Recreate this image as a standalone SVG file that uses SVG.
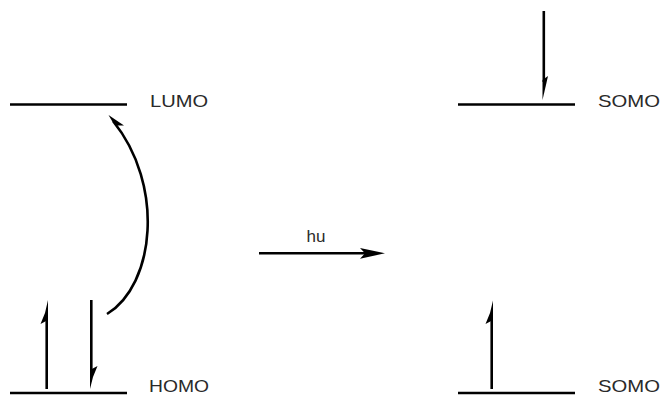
<svg xmlns="http://www.w3.org/2000/svg" width="663" height="396" viewBox="0 0 663 396">
  <style>
    .level { stroke: #000; stroke-width: 2.6; fill: none; }
    .spin { stroke: #000; stroke-width: 2.6; fill: none; }
    .barb { fill: #000; stroke: none; }
    .label { font-family: "Liberation Sans", Arial, sans-serif; font-size: 17px; fill: #2a2a2a; }
  </style>
  <rect width="663" height="396" fill="#fff"/>

  <!-- ground state: LUMO and HOMO levels -->
  <g id="lumo">
    <line class="level" x1="10" y1="104.5" x2="127" y2="104.5"/>
    <text class="label" x="150" y="107" textLength="58" lengthAdjust="spacingAndGlyphs">LUMO</text>
  </g>
  <g id="homo">
    <line class="level" x1="10" y1="393" x2="127" y2="393"/>
    <text class="label" x="149" y="392" textLength="60" lengthAdjust="spacingAndGlyphs">HOMO</text>
    <!-- paired electrons: spin up and spin down -->
    <line class="spin" x1="46.7" y1="389" x2="46.7" y2="318"/>
    <polygon class="barb" points="48,300 48,320 40.5,324 45,313"/>
    <line class="spin" x1="91.3" y1="300" x2="91.3" y2="372"/>
    <polygon class="barb" points="90,389 90,370 97.5,366 93,377"/>
  </g>

  <!-- excited state: two singly occupied levels -->
  <g id="somo-upper">
    <line class="level" x1="458" y1="104.5" x2="575" y2="104.5"/>
    <text class="label" x="598" y="107" textLength="62" lengthAdjust="spacingAndGlyphs">SOMO</text>
    <line class="spin" x1="543.8" y1="11" x2="543.8" y2="82"/>
    <polygon class="barb" points="542.5,100 542.5,80 548,76 545.5,87"/>
  </g>
  <g id="somo-lower">
    <line class="level" x1="458" y1="393" x2="575" y2="393"/>
    <text class="label" x="598" y="392" textLength="62" lengthAdjust="spacingAndGlyphs">SOMO</text>
    <line class="spin" x1="491.7" y1="389" x2="491.7" y2="318"/>
    <polygon class="barb" points="493,300.5 493,320 485.5,324 490,313"/>
  </g>

  <g id="connectors">
    <!-- promotion of one electron from HOMO to LUMO -->
    <path class="spin" stroke-width="2.2" d="M107,314 C155,285 165,185 113,121"/>
    <polygon class="barb" points="108.5,115 124,125.5 117,125.5 112,121"/>
    <!-- photoexcitation arrow -->
    <line class="spin" stroke-width="2.8" x1="259" y1="253.3" x2="366" y2="253.3"/>
    <polygon class="barb" points="385,253.3 360,248 365,253.3 360,258.7"/>
    <text class="label" x="316" y="242" font-size="18" text-anchor="middle">hu</text>
  </g>
</svg>
